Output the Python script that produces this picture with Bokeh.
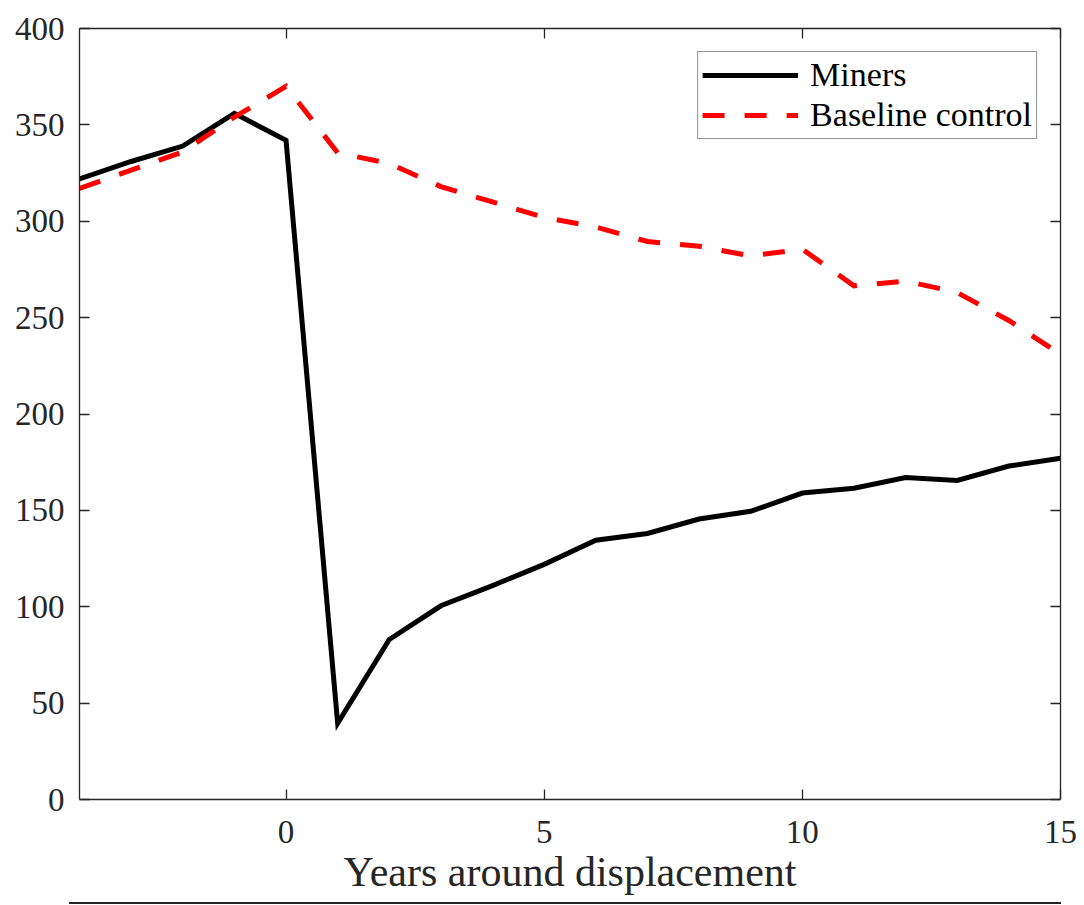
from bokeh.plotting import figure
from bokeh.models import (Range1d, LinearAxis, FixedTicker, CustomJSTickFormatter,
                          Legend, LegendItem, Div)
from bokeh.layouts import column
from bokeh.embed import file_html
from bokeh.resources import INLINE

years = [-4, -3, -2, -1, 0, 1, 2, 3, 4, 5, 6, 7, 8, 9, 10, 11, 12, 13, 14, 15]
miners = [322, 331, 339, 356, 342, 39.5, 83, 100.5, 111, 122, 134.5, 138, 145.5, 149.5,
          159, 161.5, 167, 165.5, 173, 177]
baseline = [317, 326.5, 336, 354, 370, 335.5, 330, 318, 310, 302, 297, 289.5, 287, 282,
            285.5, 266.5, 269, 263, 248.5, 231]
x_ticks = [0, 5, 10, 15]
y_ticks = [0, 50, 100, 150, 200, 250, 300, 350, 400]
x_label = "Years around displacement"
series_names = ["Miners", "Baseline control"]

FONT = "Liberation Serif"
AX = "#262626"

p = figure(width=1084, height=900, x_range=Range1d(-4, 15), y_range=Range1d(0, 400),
           output_backend="svg", toolbar_location=None,
           min_border_left=79, min_border_right=24, min_border_top=28, min_border_bottom=101)
p.xgrid.visible = False
p.ygrid.visible = False
p.outline_line_color = None
p.background_fill_color = "white"
p.border_fill_color = "white"

def style_axis(ax, ticks):
    ax.ticker = FixedTicker(ticks=ticks)
    ax.axis_line_color = AX
    ax.axis_line_width = 1.3
    ax.major_tick_line_color = AX
    ax.major_tick_line_width = 1.3
    ax.major_tick_in = 10
    ax.major_tick_out = 0
    ax.minor_tick_line_color = None
    ax.major_label_text_font = FONT
    ax.major_label_text_font_size = "33px"
    ax.major_label_text_color = AX

xa = p.xaxis[0]
style_axis(xa, x_ticks)
xa.major_label_standoff = 21
xa.axis_label = x_label
xa.axis_label_text_font = FONT
xa.axis_label_text_font_size = "42px"
xa.axis_label_text_font_style = "normal"
xa.axis_label_text_color = AX
xa.axis_label_standoff = 3

ya = p.yaxis[0]
style_axis(ya, y_ticks)
ya.major_label_standoff = 15

top = LinearAxis(formatter=CustomJSTickFormatter(code="return ''"), major_label_standoff=0)
style_axis(top, x_ticks)
p.add_layout(top, "above")
right = LinearAxis(formatter=CustomJSTickFormatter(code="return ''"), major_label_standoff=0)
style_axis(right, y_ticks)
p.add_layout(right, "right")

r1 = p.line(years, miners, line_color="black", line_width=5, line_join="miter")
r2 = p.line(years, baseline, line_color="#ff0000", line_width=5, line_dash="22 20",
            line_join="miter")

legend = Legend(items=[LegendItem(label=series_names[0], renderers=[r1]),
                       LegendItem(label=series_names[1], renderers=[r2])],
                location="top_right", margin=23, padding=4, spacing=2,
                glyph_width=96, glyph_height=30, label_height=30, label_standoff=12,
                label_text_font=FONT, label_text_font_size="34px", label_text_color="black",
                label_text_line_height=1.0,
                border_line_color=AX, border_line_width=1.3, background_fill_color="white",
                background_fill_alpha=1.0)
p.add_layout(legend)

rule = Div(text='<div style="position:absolute;left:69px;top:2px;width:992px;height:2px;'
                'background:#262626"></div>', width=1084, height=5, margin=0)

layout = column(p, rule, spacing=0)
open("out.html", "w").write(file_html(layout, INLINE))
